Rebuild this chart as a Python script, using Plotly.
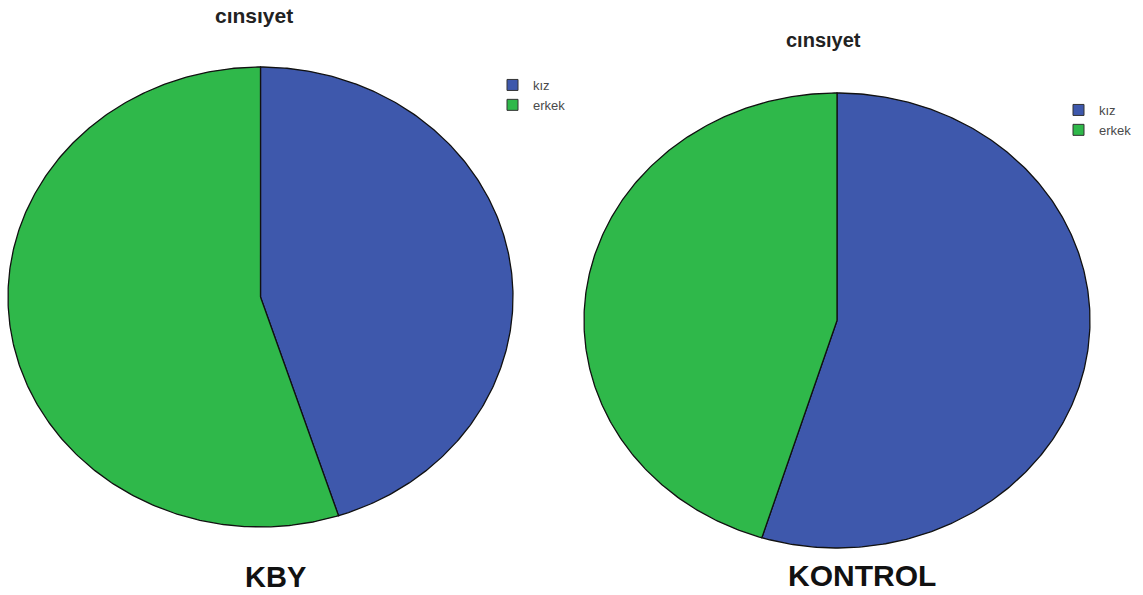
import numpy as np
import plotly.graph_objects as go

categories = ["kız", "erkek"]
kby_values = [45.0, 55.0]
kontrol_values = [54.8, 45.2]
colors = ["#3E58AC", "#2FB84A"]
chart_titles = ["cınsıyet", "cınsıyet"]
group_labels = ["KBY", "KONTROL"]

W, H = 1143, 595
PAD = 1.02


def wedges(values):
    total = float(sum(values))
    start = 0.0
    out = []
    for v in values:
        a0 = start / total * 2 * np.pi
        a1 = (start + v) / total * 2 * np.pi
        t = np.linspace(a0, a1, max(3, int(600 * v / total)))
        x = np.concatenate([[0], np.sin(t), [0]])
        y = np.concatenate([[0], np.cos(t), [0]])
        out.append((x, y))
        start += v
    return out


def domains(left, right, top, bottom):
    cx, cy = (left + right) / 2, (top + bottom) / 2
    rx, ry = (right - left) / 2 * PAD, (bottom - top) / 2 * PAD
    xd = [(cx - rx) / W, (cx + rx) / W]
    yd = [1 - (cy + ry) / H, 1 - (cy - ry) / H]
    return xd, yd


fig = go.Figure()

panels = [
    (kby_values, "x", "y", "legend", domains(8, 513, 67, 527)),
    (kontrol_values, "x2", "y2", "legend2", domains(584, 1090, 93, 548)),
]

for vals, xa, ya, lg, _ in panels:
    for (x, y), name, col in zip(wedges(vals), categories, colors):
        fig.add_trace(go.Scatter(
            x=x, y=y, xaxis=xa, yaxis=ya, mode="lines", fill="toself",
            fillcolor=col, line=dict(color="#111111", width=1.3),
            showlegend=False, hoverinfo="skip"))
    for name, col in zip(categories, colors):
        fig.add_trace(go.Scatter(
            x=[None], y=[None], xaxis=xa, yaxis=ya, mode="markers", name=name,
            marker=dict(symbol="square", size=11, color=col,
                        line=dict(color="#333333", width=1)),
            legend=lg))

axis_common = dict(visible=False, range=[-PAD, PAD], fixedrange=True)
(xd1, yd1), (xd2, yd2) = panels[0][4], panels[1][4]

legend_common = dict(font=dict(family="Liberation Sans, Arial", size=13, color="#4a4a4a"),
                     bgcolor="rgba(0,0,0,0)", itemwidth=31, tracegroupgap=0,
                     xanchor="left", yanchor="top")

FONT = "Liberation Sans, Arial"


def label(text, x, y, size, color):
    return dict(text="<b>" + text + "</b>", x=x / W, y=1 - y / H, xref="paper", yref="paper",
                xanchor="center", yanchor="middle", showarrow=False,
                font=dict(family=FONT, size=size, color=color))


fig.update_layout(
    width=W, height=H, margin=dict(l=0, r=0, t=0, b=0),
    paper_bgcolor="white", plot_bgcolor="white",
    xaxis=dict(domain=xd1, **axis_common),
    yaxis=dict(domain=yd1, **axis_common),
    xaxis2=dict(domain=xd2, **axis_common),
    yaxis2=dict(domain=yd2, **axis_common),
    legend=dict(x=492 / W, y=1 - 70 / H, **legend_common),
    legend2=dict(x=1058 / W, y=1 - 95 / H, **legend_common),
    annotations=[
        label(chart_titles[0], 254, 15, 21, "#222222"),
        label(chart_titles[1], 823, 40, 20, "#222222"),
        label(group_labels[0], 275, 577, 29, "#111111"),
        label(group_labels[1], 862, 575, 30, "#111111"),
    ],
)

fig.write_html("out.html")
